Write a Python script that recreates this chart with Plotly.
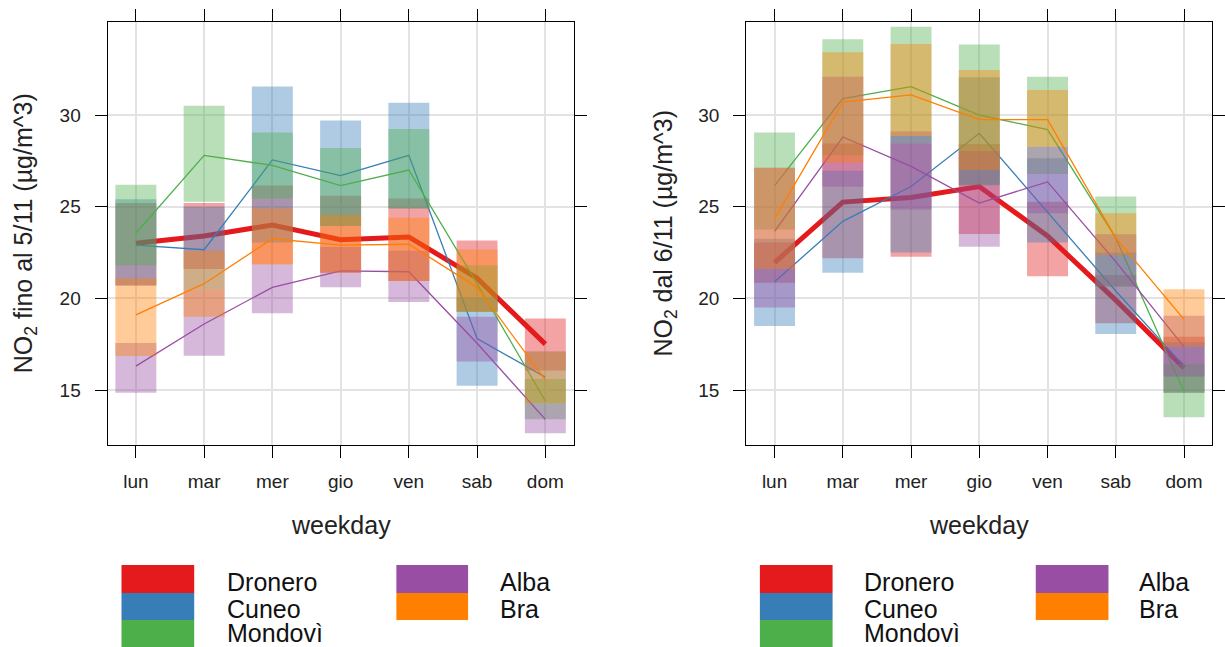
import plotly.graph_objects as go

# ---------------- data ----------------
days = ["lun", "mar", "mer", "gio", "ven", "sab", "dom"]
stations = ["Dronero", "Cuneo", "Mondovì", "Alba", "Bra"]
station_colors = ["#E41A1C", "#377EB8", "#4DAF4A", "#984EA3", "#FF7F00"]
y_ticks = [15, 20, 25, 30]
panel_titles = ["NO<sub>2</sub> fino al 5/11 (µg/m^3)", "NO<sub>2</sub> dal 6/11 (µg/m^3)"]

# Panel 1 (fino al 5/11): line values, interval lower and upper bounds
p1_dronero_mean = [23.0, 23.4, 24.0, 23.2, 23.35, 21.1, 17.5]
p1_dronero_lo = [20.7, 21.6, 21.85, 21.4, 20.95, 19.27, 16.06]
p1_dronero_hi = [25.2, 25.2, 26.15, 25.6, 25.45, 23.15, 18.9]
p1_cuneo_mean = [22.9, 22.65, 27.55, 26.7, 27.8, 17.8, 15.7]
p1_cuneo_lo = [20.7, 20.5, 23.05, 23.95, 24.9, 15.23, 14.27]
p1_cuneo_hi = [25.4, 25.0, 31.55, 29.7, 30.67, 20.05, 17.1]
p1_mondovi_mean = [23.55, 27.8, 27.25, 26.15, 27.0, 20.8, 14.4]
p1_mondovi_lo = [21.8, 25.27, 25.45, 23.95, 24.9, 19.27, 13.4]
p1_mondovi_hi = [26.2, 30.5, 29.05, 28.2, 29.24, 21.8, 15.6]
p1_alba_mean = [16.3, 18.6, 20.6, 21.5, 21.45, 17.55, 13.4]
p1_alba_lo = [14.85, 16.87, 19.18, 20.6, 19.8, 16.55, 12.64]
p1_alba_hi = [17.56, 20.5, 21.85, 22.8, 22.6, 19.0, 14.27]
p1_bra_mean = [19.1, 20.8, 23.25, 22.9, 22.95, 20.6, 15.55]
p1_bra_lo = [16.85, 19.0, 21.85, 21.4, 20.95, 19.27, 14.27]
p1_bra_hi = [21.1, 22.6, 24.9, 24.55, 24.4, 22.67, 17.1]

# Panel 2 (dal 6/11)
p2_dronero_mean = [21.95, 25.25, 25.5, 26.1, 23.4, 19.9, 16.2]
p2_dronero_lo = [20.85, 22.18, 22.27, 23.51, 21.2, 18.64, 14.85]
p2_dronero_hi = [23.04, 28.45, 28.45, 28.42, 25.27, 21.27, 17.9]
p2_cuneo_mean = [20.9, 24.2, 26.1, 29.0, 24.7, 20.4, 16.3]
p2_cuneo_lo = [18.49, 21.4, 22.5, 26.2, 23.05, 18.05, 14.85]
p2_cuneo_hi = [23.25, 26.96, 28.85, 32.06, 27.64, 22.5, 17.6]
p2_mondovi_mean = [26.15, 30.9, 31.55, 30.0, 29.2, 23.3, 14.9]
p2_mondovi_lo = [23.76, 27.8, 28.45, 26.15, 26.78, 20.64, 13.51]
p2_mondovi_hi = [29.05, 34.13, 34.82, 33.85, 32.09, 25.55, 16.42]
p2_alba_mean = [23.65, 28.8, 27.2, 25.2, 26.35, 22.0, 17.35]
p2_alba_lo = [19.5, 26.09, 24.85, 22.82, 24.64, 20.64, 15.73]
p2_alba_hi = [27.13, 32.09, 29.1, 28.04, 28.27, 23.5, 19.05]
p2_bra_mean = [24.35, 30.7, 31.1, 29.75, 29.75, 23.3, 18.85]
p2_bra_lo = [21.6, 27.4, 28.85, 27.0, 28.27, 22.36, 17.36]
p2_bra_hi = [27.13, 33.42, 33.87, 32.45, 31.36, 24.64, 20.49]

panels = [
    {
        "Dronero": (p1_dronero_mean, p1_dronero_lo, p1_dronero_hi),
        "Cuneo": (p1_cuneo_mean, p1_cuneo_lo, p1_cuneo_hi),
        "Mondovì": (p1_mondovi_mean, p1_mondovi_lo, p1_mondovi_hi),
        "Alba": (p1_alba_mean, p1_alba_lo, p1_alba_hi),
        "Bra": (p1_bra_mean, p1_bra_lo, p1_bra_hi),
    },
    {
        "Dronero": (p2_dronero_mean, p2_dronero_lo, p2_dronero_hi),
        "Cuneo": (p2_cuneo_mean, p2_cuneo_lo, p2_cuneo_hi),
        "Mondovì": (p2_mondovi_mean, p2_mondovi_lo, p2_mondovi_hi),
        "Alba": (p2_alba_mean, p2_alba_lo, p2_alba_hi),
        "Bra": (p2_bra_mean, p2_bra_lo, p2_bra_hi),
    },
]

# ---------------- layout constants ----------------
W, H = 1225, 647
FONT = "Liberation Sans, Arial, sans-serif"
HALF = 0.3
x_doms_px = [(108, 576), (749.3, 1217.3)]
y_top_px, y_bot_px = 21.7, 445
ytitle_x_px = [25, 668]
legend_px = [
    {"sq1": (122, 195), "tx1": 226, "sq2": (398, 470), "tx2": 500},
    {"sq1": (763, 836), "tx1": 866, "sq2": (1040, 1113), "tx2": 1142},
]
legend_rows_px = [(565, 593), (593, 620), (620, 648)]
legend_text_y = [582, 609, 633]


def hex_rgba(h, a):
    h = h.lstrip("#")
    return "rgba(%d,%d,%d,%s)" % (int(h[0:2], 16), int(h[2:4], 16), int(h[4:6], 16), a)


def px_x(v):
    return v / W


def px_y(v):
    return 1 - v / H


fig = go.Figure()
day_pos = list(range(1, len(days) + 1))

for p, pdata in enumerate(panels):
    xa = "x" if p == 0 else "x2"
    ya = "y" if p == 0 else "y2"
    for name, col in zip(stations, station_colors):
        mean, lo, hi = pdata[name]
        rx, ry = [], []
        for xi, l, u in zip(day_pos, lo, hi):
            rx += [xi - HALF, xi + HALF, xi + HALF, xi - HALF, xi - HALF, None]
            ry += [l, l, u, u, l, None]
        fig.add_trace(go.Scatter(
            x=rx, y=ry, xaxis=xa, yaxis=ya, mode="lines", fill="toself",
            fillcolor=hex_rgba(col, 0.4), line=dict(width=0), hoverinfo="skip",
            showlegend=False))
        fig.add_trace(go.Scatter(
            x=day_pos, y=mean, xaxis=xa, yaxis=ya, mode="lines",
            line=dict(color=col, width=5 if name == "Dronero" else 1.3),
            name=name, showlegend=False))

axis_common = dict(
    showline=True, linecolor="black", linewidth=1, mirror="ticks",
    ticks="outside", ticklen=12, tickwidth=1, tickcolor="black",
    showgrid=True, gridcolor="#e3e3e3", gridwidth=1.5, zeroline=False,
    tickfont=dict(family=FONT, size=19, color="#222"),
)

layout_axes = {}
for p in range(2):
    xd = [px_x(x_doms_px[p][0]), px_x(x_doms_px[p][1])]
    yd = [px_y(y_bot_px), px_y(y_top_px)]
    xk = "xaxis" if p == 0 else "xaxis2"
    yk = "yaxis" if p == 0 else "yaxis2"
    layout_axes[xk] = dict(axis_common, domain=xd, range=[0.585, 7.415],
                           tickvals=day_pos, ticktext=days, ticklabelstandoff=7,
                           anchor="y" if p == 0 else "y2")
    layout_axes[yk] = dict(axis_common, domain=yd, range=[12.0, 35.09],
                           tickvals=y_ticks, ticklabelstandoff=10,
                           anchor="x" if p == 0 else "x2")

annotations = []
shapes = []
for p in range(2):
    xc = (x_doms_px[p][0] + x_doms_px[p][1]) / 2
    annotations.append(dict(
        text="weekday", x=px_x(xc), y=px_y(525), xref="paper", yref="paper",
        showarrow=False, xanchor="center", yanchor="middle",
        font=dict(family=FONT, size=25, color="#222")))
    annotations.append(dict(
        text=panel_titles[p], x=px_x(ytitle_x_px[p]), y=px_y((y_top_px + y_bot_px) / 2),
        xref="paper", yref="paper", showarrow=False, textangle=-90,
        xanchor="center", yanchor="middle",
        font=dict(family=FONT, size=25, color="#222")))
    lp = legend_px[p]
    for i, (name, col) in enumerate(zip(stations, station_colors)):
        if i < 3:
            sq, tx, row = lp["sq1"], lp["tx1"], i
        else:
            sq, tx, row = lp["sq2"], lp["tx2"], i - 3
        r0, r1 = legend_rows_px[row]
        shapes.append(dict(type="rect", xref="paper", yref="paper",
                           x0=px_x(sq[0]), x1=px_x(sq[1]), y0=px_y(r1), y1=px_y(r0),
                           fillcolor=col, line=dict(width=0), layer="above"))
        annotations.append(dict(
            text=name, x=px_x(tx), y=px_y(legend_text_y[row]), xref="paper", yref="paper",
            showarrow=False, xanchor="left", yanchor="middle",
            font=dict(family=FONT, size=25, color="#111")))

fig.update_layout(
    width=W, height=H, margin=dict(l=0, r=0, t=0, b=0),
    paper_bgcolor="white", plot_bgcolor="white",
    showlegend=False, annotations=annotations, shapes=shapes,
    font=dict(family=FONT),
    **layout_axes,
)

fig.write_html("out.html")
